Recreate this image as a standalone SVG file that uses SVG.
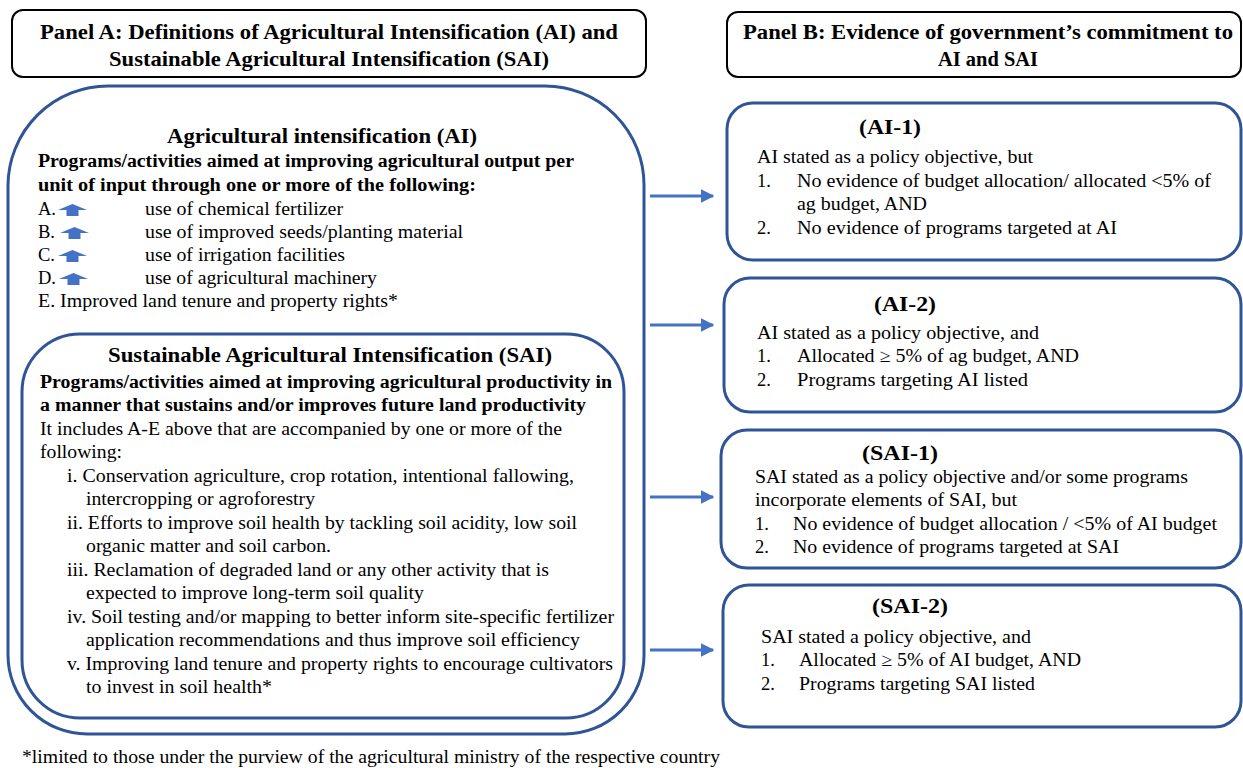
<svg xmlns="http://www.w3.org/2000/svg" width="1243" height="768" viewBox="0 0 1243 768">
<defs>
<style>
text{font-family:"Liberation Serif","Times New Roman",serif;fill:#000}
.h{font-weight:bold;font-size:21px}
.b{font-weight:bold;font-size:18.5px}
.r{font-size:18.5px}
.hdr{fill:#fff;stroke:#000;stroke-width:2}
.box{fill:#fff;stroke:#2F5597;stroke-width:3}
.ar{stroke:#4472C4;stroke-width:3;fill:none}
.icon{fill:#4472C4}
</style>
<marker id="ah" viewBox="0 0 10 10" refX="9" refY="5" markerWidth="4.5" markerHeight="4.5" markerUnits="strokeWidth" orient="auto">
<path d="M0,0 L10,5 L0,10 z" fill="#4472C4"/>
</marker>
<path id="up" d="M0,6 L14.5,0 L29,6 L20.5,6 L20.5,12 L8.5,12 L8.5,6 z"/>
</defs>
<rect width="1243" height="768" fill="#fff"/>

<g id="panelA-header">
<rect class="hdr" x="12" y="10" width="634" height="67" rx="11"/>
<text class="h" x="329" y="39" text-anchor="middle" textLength="578" lengthAdjust="spacingAndGlyphs">Panel A: Definitions of Agricultural Intensification (AI) and</text>
<text class="h" x="329" y="66" text-anchor="middle" textLength="440" lengthAdjust="spacingAndGlyphs">Sustainable Agricultural Intensification (SAI)</text>
</g>

<g id="panelB-header">
<rect class="hdr" x="727" y="12" width="514" height="65" rx="11"/>
<text class="h" x="988" y="39" text-anchor="middle" textLength="490" lengthAdjust="spacingAndGlyphs">Panel B: Evidence of government’s commitment to</text>
<text class="h" x="988" y="66" text-anchor="middle" textLength="100" lengthAdjust="spacingAndGlyphs">AI and SAI</text>
</g>

<g id="ai-box">
<path class="box" d="M108,86 L545,86 A99,99 0 0 1 644,185 L644,655 A79,79 0 0 1 565,734 L87,734 A79,79 0 0 1 8,655 L8,185 A100,100 0 0 1 108,86 z"/>
<text class="h" x="322" y="143" text-anchor="middle" textLength="310" lengthAdjust="spacingAndGlyphs">Agricultural intensification (AI)</text>
<text class="b" x="38" y="167" textLength="536" lengthAdjust="spacingAndGlyphs">Programs/activities aimed at improving agricultural output per</text>
<text class="b" x="38" y="191" textLength="438" lengthAdjust="spacingAndGlyphs">unit of input through one or more of the following:</text>
<text class="r" x="38" y="215">A.</text>
<use href="#up" class="icon" x="58" y="204"/>
<text class="r" x="145" y="215" textLength="198" lengthAdjust="spacingAndGlyphs">use of chemical fertilizer</text>
<text class="r" x="38" y="238">B.</text>
<use href="#up" class="icon" x="60" y="227"/>
<text class="r" x="145" y="238" textLength="318" lengthAdjust="spacingAndGlyphs">use of improved seeds/planting material</text>
<text class="r" x="38" y="261">C.</text>
<use href="#up" class="icon" x="58" y="250"/>
<text class="r" x="145" y="261" textLength="200" lengthAdjust="spacingAndGlyphs">use of irrigation facilities</text>
<text class="r" x="38" y="284">D.</text>
<use href="#up" class="icon" x="59" y="273"/>
<text class="r" x="145" y="284" textLength="232" lengthAdjust="spacingAndGlyphs">use of agricultural machinery</text>
<text class="r" x="38" y="307" textLength="360" lengthAdjust="spacingAndGlyphs">E.  Improved land tenure and property rights*</text>
</g>

<g id="sai-box">
<rect class="box" x="22" y="334" width="602" height="384" rx="58"/>
<text class="h" x="330" y="362" text-anchor="middle" textLength="444" lengthAdjust="spacingAndGlyphs">Sustainable Agricultural Intensification (SAI)</text>
<text class="b" x="40" y="388" textLength="572" lengthAdjust="spacingAndGlyphs">Programs/activities aimed at improving agricultural productivity in</text>
<text class="b" x="40" y="411" textLength="546" lengthAdjust="spacingAndGlyphs">a manner that sustains and/or improves future land productivity</text>
<text class="r" x="40" y="435" textLength="522" lengthAdjust="spacingAndGlyphs">It includes A-E above that are accompanied by one or more of the</text>
<text class="r" x="40" y="458" textLength="82" lengthAdjust="spacingAndGlyphs">following:</text>
<text class="r" x="67" y="482" textLength="507" lengthAdjust="spacingAndGlyphs">i. Conservation agriculture, crop rotation, intentional fallowing,</text>
<text class="r" x="86" y="505" textLength="229" lengthAdjust="spacingAndGlyphs">intercropping or agroforestry</text>
<text class="r" x="67" y="529" textLength="510" lengthAdjust="spacingAndGlyphs">ii. Efforts to improve soil health by tackling soil acidity, low soil</text>
<text class="r" x="86" y="552" textLength="245" lengthAdjust="spacingAndGlyphs">organic matter and soil carbon.</text>
<text class="r" x="67" y="576" textLength="482" lengthAdjust="spacingAndGlyphs">iii. Reclamation of degraded land or any other activity that is</text>
<text class="r" x="86" y="599" textLength="338" lengthAdjust="spacingAndGlyphs">expected to improve long-term soil quality</text>
<text class="r" x="67" y="623" textLength="547" lengthAdjust="spacingAndGlyphs">iv. Soil testing and/or mapping to better inform site-specific fertilizer</text>
<text class="r" x="86" y="646" textLength="494" lengthAdjust="spacingAndGlyphs">application recommendations and thus improve soil efficiency</text>
<text class="r" x="67" y="670" textLength="546" lengthAdjust="spacingAndGlyphs">v. Improving land tenure and property rights to encourage cultivators</text>
<text class="r" x="86" y="693" textLength="186" lengthAdjust="spacingAndGlyphs">to invest in soil health*</text>
</g>

<g id="ai-1">
<rect class="box" x="727" y="103" width="514" height="157" rx="26"/>
<text class="h" x="890" y="134" text-anchor="middle" textLength="62" lengthAdjust="spacingAndGlyphs">(AI-1)</text>
<text class="r" x="757" y="163" textLength="276" lengthAdjust="spacingAndGlyphs">AI stated as a policy objective, but</text>
<text class="r" x="757" y="187">1.</text>
<text class="r" x="797" y="187" textLength="414" lengthAdjust="spacingAndGlyphs">No evidence of  budget allocation/ allocated &lt;5% of</text>
<text class="r" x="797" y="210" textLength="130" lengthAdjust="spacingAndGlyphs">ag budget, AND</text>
<text class="r" x="757" y="234">2.</text>
<text class="r" x="797" y="234" textLength="320" lengthAdjust="spacingAndGlyphs">No evidence of programs targeted at AI</text>
</g>

<g id="ai-2">
<rect class="box" x="724" y="278" width="517" height="134" rx="26"/>
<text class="h" x="905" y="311" text-anchor="middle" textLength="62" lengthAdjust="spacingAndGlyphs">(AI-2)</text>
<text class="r" x="757" y="339" textLength="282" lengthAdjust="spacingAndGlyphs">AI stated as a policy objective, and</text>
<text class="r" x="757" y="362">1.</text>
<text class="r" x="797" y="362" textLength="282" lengthAdjust="spacingAndGlyphs">Allocated ≥ 5% of ag budget, AND</text>
<text class="r" x="757" y="386">2.</text>
<text class="r" x="797" y="386" textLength="231" lengthAdjust="spacingAndGlyphs">Programs targeting AI listed</text>
</g>

<g id="sai-1">
<rect class="box" x="721" y="430" width="520" height="138" rx="26"/>
<text class="h" x="900" y="460" text-anchor="middle" textLength="76" lengthAdjust="spacingAndGlyphs">(SAI-1)</text>
<text class="r" x="755" y="483" textLength="433" lengthAdjust="spacingAndGlyphs">SAI stated as a policy objective and/or some programs</text>
<text class="r" x="755" y="506" textLength="262" lengthAdjust="spacingAndGlyphs">incorporate elements of SAI, but</text>
<text class="r" x="755" y="530">1.</text>
<text class="r" x="793" y="530" textLength="424" lengthAdjust="spacingAndGlyphs">No evidence of budget allocation / &lt;5% of AI budget</text>
<text class="r" x="755" y="553">2.</text>
<text class="r" x="793" y="553" textLength="326" lengthAdjust="spacingAndGlyphs">No evidence of programs targeted at SAI</text>
</g>

<g id="sai-2">
<rect class="box" x="723" y="585" width="518" height="142" rx="26"/>
<text class="h" x="910" y="613" text-anchor="middle" textLength="76" lengthAdjust="spacingAndGlyphs">(SAI-2)</text>
<text class="r" x="761" y="643" textLength="270" lengthAdjust="spacingAndGlyphs">SAI stated a policy objective, and</text>
<text class="r" x="761" y="666">1.</text>
<text class="r" x="799" y="666" textLength="282" lengthAdjust="spacingAndGlyphs">Allocated ≥ 5% of AI budget, AND</text>
<text class="r" x="761" y="690">2.</text>
<text class="r" x="799" y="690" textLength="236" lengthAdjust="spacingAndGlyphs">Programs targeting SAI listed</text>
</g>

<g id="connectors">
<line class="ar" x1="650" y1="196" x2="713" y2="196" marker-end="url(#ah)"/>
<line class="ar" x1="650" y1="325" x2="713" y2="325" marker-end="url(#ah)"/>
<line class="ar" x1="650" y1="497" x2="713" y2="497" marker-end="url(#ah)"/>
<line class="ar" x1="650" y1="650" x2="713" y2="650" marker-end="url(#ah)"/>
</g>

<g id="footnote">
<text class="r" x="22" y="763" textLength="698" lengthAdjust="spacingAndGlyphs">*limited to those under the purview of the agricultural ministry of the respective country</text>
</g>
</svg>
